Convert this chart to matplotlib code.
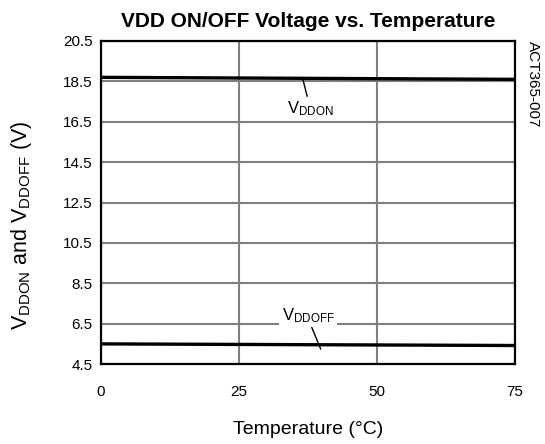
import matplotlib.pyplot as plt

plt.rcParams["font.family"] = ["Liberation Sans", "DejaVu Sans"]

# temperature (deg C) and threshold voltages (V)
temperature = [0, 75]
vddon = [18.7, 18.6]
vddoff = [5.5, 5.42]

x_ticks = [0, 25, 50, 75]
y_ticks = [4.5, 6.5, 8.5, 10.5, 12.5, 14.5, 16.5, 18.5, 20.5]

fig = plt.figure(figsize=(5.45, 4.44), dpi=100)
ax = fig.add_axes([0.1853, 0.180, 0.7597, 0.7277])

ax.plot(temperature, vddon, color="black", lw=2.4, solid_capstyle="butt", zorder=3)
ax.plot(temperature, vddoff, color="black", lw=2.4, solid_capstyle="butt", zorder=3)

ax.set_xlim(0, 75)
ax.set_ylim(4.5, 20.5)
ax.set_xticks(x_ticks)
ax.set_yticks(y_ticks)
ax.set_yticklabels([f"{v:.1f}" for v in y_ticks])
ax.tick_params(axis="both", length=0, labelsize=11)
ax.tick_params(axis="x", pad=15)
ax.tick_params(axis="y", pad=6)
ax.grid(True, color="#808080", lw=1.5)
ax.set_axisbelow(True)
for s in ax.spines.values():
    s.set_linewidth(1.6)
    s.set_zorder(4)

ax.set_title("VDD ON/OFF Voltage vs. Temperature", fontsize=15, fontweight="bold", pad=10)
ax.set_xlabel("Temperature (°C)", fontsize=14, labelpad=16)
ax.set_ylabel(r"$\mathregular{V_{DDON}}$ and $\mathregular{V_{DDOFF}}$ (V)", fontsize=15.5)
ax.yaxis.set_label_coords(-0.163, 0.43)

# curve labels with leader lines
ax.annotate(r"$\mathregular{V_{DDON}}$", xy=(36.5, 18.68), xytext=(37.9, 17.62),
            fontsize=12, ha="center", va="top",
            arrowprops=dict(arrowstyle="-", color="black", lw=1, shrinkA=0, shrinkB=0,
                            relpos=(0.45, 1.0)))
ax.annotate(r"$\mathregular{V_{DDOFF}}$", xy=(39.8, 5.24), xytext=(37.5, 6.45),
            fontsize=12, ha="center", va="bottom",
            bbox=dict(boxstyle="square,pad=0.15", fc="white", ec="none"),
            arrowprops=dict(arrowstyle="-", color="black", lw=1, shrinkA=0, shrinkB=0,
                            relpos=(0.55, 0.0)))

fig.text(0.978, 0.908, "ACT365-007", rotation=-90, fontsize=11, ha="center", va="top")

fig.savefig("out.png", dpi=100)
